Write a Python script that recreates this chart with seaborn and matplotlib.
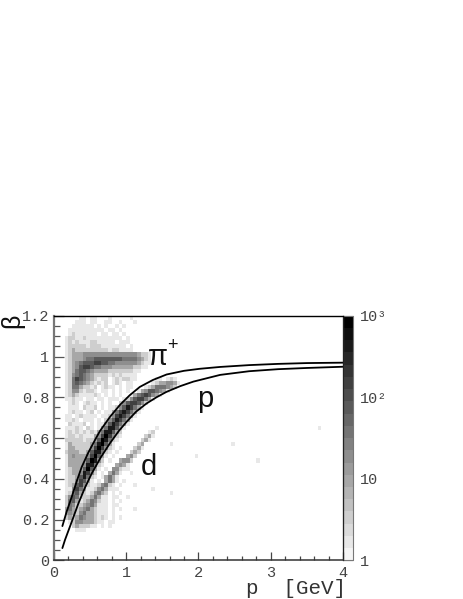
import numpy as np
import pandas as pd
import matplotlib
matplotlib.use('Agg')
import matplotlib.pyplot as plt
from matplotlib.colors import ListedColormap, LogNorm
import seaborn as sns

# histogram cells, top row is beta 1.18-1.20, one char per 0.05 GeV
# digit = log level, 0 = empty
level_rows = [
    "0000000110 1100010000 0100000000",
    "0000001110 1100110010 0010000000",
    "0000011111 1010100101 0000000000",
    "0000111111 1111011010 0000000000",
    "0000121111 1101101101 0000000000",
    "0001221121 1111111110 1000000000",
    "0001212111 2211111011 1000000000",
    "0001222221 2221111111 0100000000",
    "0001232222 2222212211 1100000000",
    "0001233344 4444444444 4443221000",
    "0001233345 5666666665 5554321000",
    "0001234566 6776655444 4443211000",
    "0001234677 6554443333 3322110000",
    "0001235665 4333322222 2211000000",
    "0001245654 3222212121 1110000000",
    "0001257654 3212201212 2110000011 0121000000",
    "0001256543 2121201210 1100000123 3443100000",
    "0001255322 1201211010 1100012355 5432000000",
    "0001244212 2101101010 1001346654 3100000000",
    "0001232111 1210101010 0135676431 0000000000",
    "0001121101 1011011101 2467753100 0000000000",
    "0000121012 1101010024 6776420000 0000000000",
    "0000111021 1201011246 8753100000 0000000000",
    "0000121101 2010113578 7531000000 0000000000",
    "0001101211 1101124787 5310000000 0000000000",
    "0001121011 1010246875 3100000000 0000000000",
    "0000211120 1011368753 1000000000 0000000000",
    "0001112102 1013588631 0000000010 0000000000",
    "0001212121 2135886320 0000001200 0000000000",
    "0001221211 1347974210 0000023100 0000000000",
    "0002222212 2369852100 0000231000 0000000000",
    "0001322222 3589631000 0002300000 0010000000",
    "0001332222 4797421010 0023100000 0000000000",
    "0002333223 6885210100 0232000000 0000000000",
    "0001343334 7963101000 3420000000 0000000001",
    "0001333336 9842010034 4200000000 0000000000",
    "0001333348 8521000343 1000000000 0000000000",
    "0001233369 6310104421 1000000000 0000000000",
    "0001233487 4201035310 0100000000 0000000000",
    "0001223685 2101353100 0000000000 0000000000",
    "0001224763 1010353101 0000000000 0000000000",
    "0001236742 1124521010 0010000000 0000000000",
    "0001147531 1245311100 0000000100 0000000000",
    "0001256321 2453201010 0000000000 0010000000",
    "0002465222 3531101100 1000000000 0000000000",
    "0002563123 5421101010 0000000000 0000000000",
    "0002542234 5311101100 0000000000 0000000000",
    "0003532345 3211101010 0010000000 0000000000",
    "0003432453 3211101000 0000000000 0000000000",
    "0002323543 3212101010 0000000000 0000000000",
    "0000124433 3211011000 0000000000 0000000000",
    "0000023222 1101010000 0000000000 0000000000",
    "0000001110 0000000000 0000000000 0000000000",
]

# lone cells beyond 2 GeV
extra_p = [2.46, 2.81, 3.65]
extra_beta = [0.58, 0.50, 0.66]
extra_level = [1, 1, 1]

upper_p = [0.12, 0.18, 0.249, 0.32, 0.387, 0.48, 0.57, 0.64, 0.78, 0.916, 1.05, 1.19, 1.37, 1.56, 1.8, 2.02, 2.3, 2.7, 3.1, 3.5, 4.0]
upper_beta = [0.168, 0.24, 0.311, 0.39, 0.458, 0.53, 0.59, 0.635, 0.705, 0.763, 0.81, 0.851, 0.885, 0.912, 0.93, 0.94, 0.949, 0.958, 0.964, 0.968, 0.97]
lower_p = [0.12, 0.156, 0.25, 0.34, 0.43, 0.525, 0.65, 0.778, 0.9, 1.008, 1.14, 1.284, 1.42, 1.56, 1.75, 1.93, 2.3, 2.7, 3.1, 3.5, 4.0]
lower_beta = [0.06, 0.10, 0.19, 0.278, 0.355, 0.426, 0.505, 0.575, 0.635, 0.68, 0.73, 0.77, 0.80, 0.827, 0.855, 0.877, 0.91, 0.928, 0.938, 0.944, 0.95]

x_ticks = [0, 1, 2, 3, 4]
y_ticks = [0, 0.2, 0.4, 0.6, 0.8, 1.0, 1.2]
y_tick_labels = ['0', '0.2', '0.4', '0.6', '0.8', '1', '1.2']
cbar_ticks = [1, 10, 100, 1000]
cbar_labels = ['1', '10', '10²', '10³']

sns.set_theme(style='white')
plt.rcParams['font.family'] = ['Liberation Mono', 'DejaVu Sans']

W, H = 463, 599
fig = plt.figure(figsize=(W / 100, H / 100), dpi=100)
rect = [53.7 / W, (H - 560.3) / H, 289.5 / W, 244.5 / H]
ax = fig.add_axes(rect)
cax = fig.add_axes([343.2 / W, (H - 560.3) / H, 10 / W, 244.5 / H])

# build the 0.05 GeV x 0.02 grid
levels = np.zeros((60, 80))
for i, row in enumerate(level_rows):
    digits = row.replace(' ', '')
    for j, ch in enumerate(digits):
        levels[i, j] = int(ch)
for p, b, lv in zip(extra_p, extra_beta, extra_level):
    levels[int(round((1.2 - b) / 0.02)), int(round(p / 0.05))] = lv

counts = pd.DataFrame(10 ** ((levels - 0.3) / 3))
greys = ListedColormap([str(g) for g in np.linspace(0.96, 0.0, 20)])
sns.heatmap(counts, ax=ax, cmap=greys, norm=LogNorm(1, 1000), mask=levels == 0,
            cbar_ax=cax, xticklabels=False, yticklabels=False)

cbar = ax.collections[0].colorbar
cbar.set_ticks(cbar_ticks)
cbar.set_ticklabels(cbar_labels)
cbar.ax.tick_params(which='major', direction='in', length=7, width=0.8, color='#333333',
                    labelsize=11, labelcolor='#444444', pad=5, right=True)
cbar.ax.tick_params(which='minor', direction='in', length=4, width=0.8, color='#333333', right=True)
cbar.outline.set_edgecolor('#777777')
cbar.outline.set_linewidth(0.8)

# second axes on top in real units for the curves and ticks
top = fig.add_axes(rect, facecolor='none')
sns.lineplot(x=upper_p, y=upper_beta, ax=top, color='black', lw=1.3, sort=False, errorbar=None)
sns.lineplot(x=lower_p, y=lower_beta, ax=top, color='black', lw=1.3, sort=False, errorbar=None)
top.set_xlim(0, 4)
top.set_ylim(0, 1.2)
top.set_xticks(x_ticks)
top.set_xticklabels(['0', '1', '2', '3', '4'])
top.set_yticks(y_ticks)
top.set_yticklabels(y_tick_labels)
top.set_xticks(np.arange(0, 4.01, 0.2), minor=True)
top.set_yticks(np.arange(0, 1.201, 0.05), minor=True)
top.tick_params(axis='x', which='major', direction='in', length=5.5, width=0.9, color='#444444',
                labelsize=11, labelcolor='#444444', pad=4, bottom=True)
top.tick_params(axis='x', which='minor', direction='in', length=3, width=0.9, color='#444444', bottom=True)
top.tick_params(axis='y', which='major', direction='in', length=7.5, width=0.9, color='#555555',
                labelsize=11, labelcolor='#444444', pad=3, left=True)
top.tick_params(axis='y', which='minor', direction='in', length=4, width=0.9, color='#555555', left=True)

top.spines['left'].set_color('#777777')
top.spines['left'].set_linewidth(1.6)
top.spines['bottom'].set_color('#333333')
top.spines['bottom'].set_linewidth(1.1)
top.spines['top'].set_color('black')
top.spines['top'].set_linewidth(1.0)
top.spines['right'].set_color('#222222')
top.spines['right'].set_linewidth(0.9)

sans = 'Liberation Sans'
top.text(1.30, 1.00, 'π', family=sans, fontsize=21, ha='left', va='center', color='#111111')
top.text(1.57, 1.055, '+', family=sans, fontsize=13, ha='left', va='center', color='#111111')
top.text(2.10, 0.79, 'p', family=sans, fontsize=21, ha='center', va='center', color='#111111')
top.text(1.31, 0.46, 'd', family=sans, fontsize=21, ha='center', va='center', color='#111111')

fig.text(346 / W, 1 - 588 / H, 'p  [GeV]', fontsize=15, ha='right', va='center', color='#333333')
fig.text(12 / W, 1 - 321 / H, 'β', family=sans, fontsize=18, rotation=90, ha='center', va='center', color='#111111')

fig.savefig('out.png', dpi=100)
plt.close(fig)
